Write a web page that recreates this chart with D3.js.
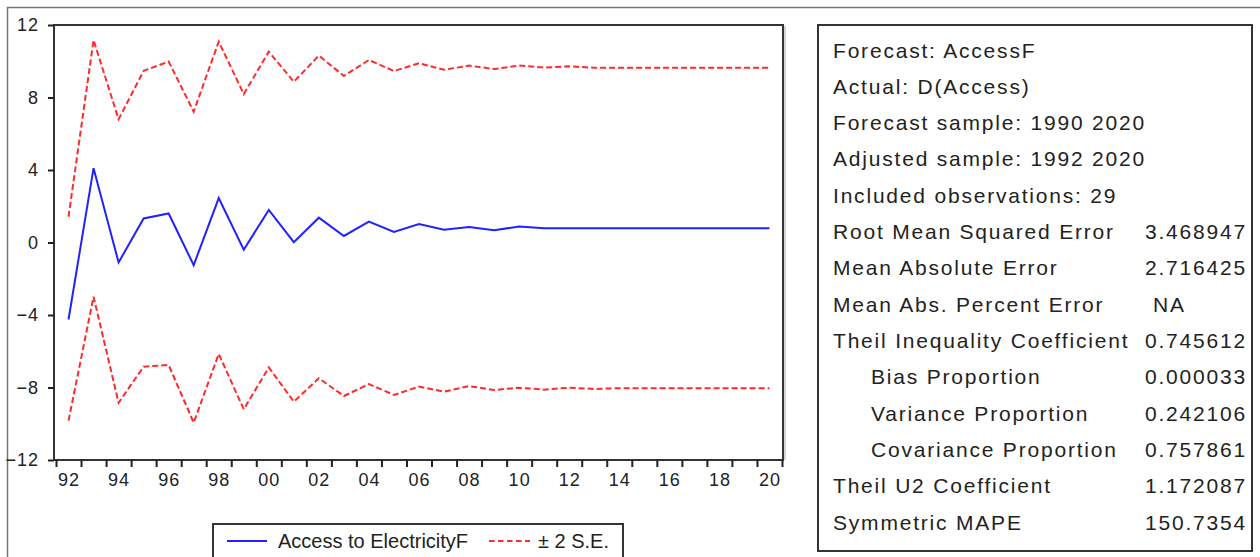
<!DOCTYPE html>
<html>
<head>
<meta charset="utf-8">
<script src="https://cdn.jsdelivr.net/npm/d3@7"></script>
<style>
  body { margin: 0; background: #fff; }
  svg { display: block; font-family: Arial, "Liberation Sans", sans-serif; }
  .axis path { display: none; }
  .axis line { stroke: #222; stroke-width: 2; }
  .axis text { fill: #222; font-size: 18px; letter-spacing: 1px; }
</style>
</head>
<body>
<div class="chart"></div>
<script>
// years of the forecast (1992 - 2020)
const years = [1992, 1993, 1994, 1995, 1996, 1997, 1998, 1999, 2000, 2001,
  2002, 2003, 2004, 2005, 2006, 2007, 2008, 2009, 2010, 2011,
  2012, 2013, 2014, 2015, 2016, 2017, 2018, 2019, 2020]

// Access to ElectricityF
const forecast = [-4.25, 4.1, -1.1, 1.33, 1.6, -1.25, 2.45, -0.4, 1.8, 0.02,
  1.37, 0.36, 1.15, 0.58, 1.02, 0.7, 0.85, 0.68, 0.88, 0.78,
  0.79, 0.79, 0.79, 0.79, 0.79, 0.79, 0.79, 0.79, 0.79]

// +2 S.E. and -2 S.E. bands
const upper = [1.42, 11.17, 6.8, 9.47, 9.98, 7.22, 11.08, 8.19, 10.53, 8.87,
  10.31, 9.19, 10.07, 9.46, 9.89, 9.53, 9.76, 9.57, 9.76, 9.65,
  9.72, 9.64, 9.64, 9.64, 9.64, 9.64, 9.64, 9.64, 9.64]
const lower = [-9.83, -2.99, -8.84, -6.85, -6.76, -9.94, -6.15, -9.2, -6.89, -8.78,
  -7.49, -8.47, -7.81, -8.41, -7.95, -8.23, -7.92, -8.14, -8.01, -8.12,
  -8.01, -8.08, -8.04, -8.04, -8.04, -8.04, -8.04, -8.04, -8.04]

const yTicks = [-12, -8, -4, 0, 4, 8, 12]
const xLabelYears = [1992, 1994, 1996, 1998, 2000, 2002, 2004, 2006, 2008, 2010,
  2012, 2014, 2016, 2018, 2020]

const legendLabels = ["Access to ElectricityF", "\u00b1 2 S.E."]

// forecast evaluation table
const statLabels = ["Forecast: AccessF", "Actual: D(Access)", "Forecast sample: 1990 2020",
  "Adjusted sample: 1992 2020", "Included observations: 29", "Root Mean Squared Error",
  "Mean Absolute Error", "Mean Abs. Percent Error", "Theil Inequality Coefficient",
  "Bias Proportion", "Variance Proportion", "Covariance Proportion",
  "Theil U2 Coefficient", "Symmetric MAPE"]
const statValues = ["", "", "", "", "", "3.468947", "2.716425", "NA", "0.745612",
  "0.000033", "0.242106", "0.757861", "1.172087", "150.7354"]
const subRows = ["Bias Proportion", "Variance Proportion", "Covariance Proportion"]

const blue = "#2222ff"
const red = "#ff2a2a"

const svg = d3.select(".chart")
  .append("svg")
  .attr("width", 1260)
  .attr("height", 557)

// outer frame
svg.append("path")
  .attr("d", "M7.5,557 V7.5 H1260")
  .attr("fill", "none")
  .attr("stroke", "#777")
  .attr("stroke-width", 1.5)

const plot = { left: 54, right: 783, top: 25, bottom: 460 }

const xScale = d3.scaleLinear()
  .domain([1991.42, 2020.54])
  .range([plot.left, plot.right])

const yScale = d3.scaleLinear()
  .domain([-12, 12])
  .range([plot.bottom, plot.top])

const data = years.map((y, i) => ({ year: y, f: forecast[i], up: upper[i], lo: lower[i] }))

// plot frame
svg.append("rect")
  .attr("x", plot.left)
  .attr("y", plot.top)
  .attr("width", plot.right - plot.left)
  .attr("height", plot.bottom - plot.top)
  .attr("fill", "none")
  .attr("stroke", "#333")
  .attr("stroke-width", 2)

svg.append("line")
  .attr("x1", plot.right + 2).attr("x2", plot.right + 2)
  .attr("y1", plot.top + 1).attr("y2", plot.bottom)
  .attr("stroke", "#aaa").attr("stroke-width", 1)

// y axis
svg.append("g")
  .attr("class", "axis y-axis")
  .attr("transform", `translate(${plot.left},0)`)
  .call(d3.axisLeft(yScale).tickValues(yTicks).tickSize(6).tickPadding(9).tickSizeOuter(0))

// x axis: a tick at every year boundary, labels every two years
const yearEdges = years.map(y => y - 0.5).concat([2020.5])
svg.append("g")
  .attr("class", "axis x-axis")
  .attr("transform", `translate(0,${plot.bottom})`)
  .call(d3.axisBottom(xScale).tickValues(yearEdges).tickSize(7).tickFormat("").tickSizeOuter(0))

svg.append("g")
  .attr("class", "axis x-labels")
  .attr("transform", `translate(0,${plot.bottom})`)
  .call(d3.axisBottom(xScale).tickValues(xLabelYears).tickSize(0).tickPadding(13)
    .tickFormat(d => String(d).slice(2)))
  .selectAll("line").remove()

// lines
const line = key => d3.line()
  .x(d => xScale(d.year))
  .y(d => yScale(d[key]))

svg.append("path")
  .datum(data)
  .attr("d", line("up"))
  .attr("fill", "none")
  .attr("stroke", red)
  .attr("stroke-width", 2)
  .attr("stroke-dasharray", "6,3")

svg.append("path")
  .datum(data)
  .attr("d", line("lo"))
  .attr("fill", "none")
  .attr("stroke", red)
  .attr("stroke-width", 2)
  .attr("stroke-dasharray", "6,3")

svg.append("path")
  .datum(data)
  .attr("d", line("f"))
  .attr("fill", "none")
  .attr("stroke", blue)
  .attr("stroke-width", 2)

// legend
const legend = svg.append("g").attr("class", "legend")
legend.append("path")
  .attr("d", "M213,557 V524 H623 V557")
  .attr("fill", "none")
  .attr("stroke", "#333")
  .attr("stroke-width", 2)

legend.append("line")
  .attr("x1", 227).attr("x2", 267).attr("y1", 541).attr("y2", 541)
  .attr("stroke", blue).attr("stroke-width", 2)
legend.append("text")
  .attr("x", 278).attr("y", 548)
  .attr("font-size", 20)
  .attr("fill", "#222")
  .text(legendLabels[0])

legend.append("line")
  .attr("x1", 489).attr("x2", 530).attr("y1", 541).attr("y2", 541)
  .attr("stroke", red).attr("stroke-width", 2)
  .attr("stroke-dasharray", "5.5,3.5")
legend.append("text")
  .attr("x", 538).attr("y", 548)
  .attr("font-size", 20)
  .attr("fill", "#222")
  .text(legendLabels[1])

// statistics box
const box = svg.append("g").attr("class", "stats")
box.append("rect")
  .attr("x", 818).attr("y", 25)
  .attr("width", 1252 - 818).attr("height", 551 - 25)
  .attr("fill", "#fff")
  .attr("stroke", "#333")
  .attr("stroke-width", 2)

const rowY = d3.scaleLinear().domain([0, 13]).range([57.5, 529.5])

box.selectAll("text.label")
  .data(statLabels)
  .join("text")
  .attr("class", "label")
  .attr("x", d => subRows.includes(d) ? 871 : 833)
  .attr("y", (d, i) => rowY(i))
  .attr("font-size", 21)
  .attr("letter-spacing", "1.8px")
  .attr("fill", "#222")
  .text(d => d)

box.selectAll("text.value")
  .data(statValues)
  .join("text")
  .attr("class", "value")
  .attr("x", d => d === "NA" ? 1153 : 1145)
  .attr("y", (d, i) => rowY(i))
  .attr("font-size", 21)
  .attr("letter-spacing", "1.8px")
  .attr("fill", "#222")
  .text(d => d)
</script>
</body>
</html>
